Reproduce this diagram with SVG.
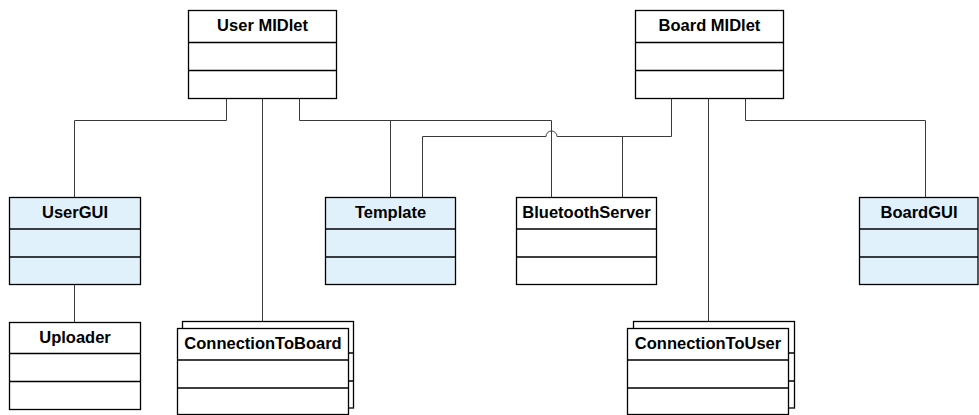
<svg xmlns="http://www.w3.org/2000/svg" width="979" height="415" viewBox="0 0 979 415">
  <style>
    .box { stroke: #000; stroke-width: 1.3; }
    .plain { fill: #fff; }
    .gui { fill: #e0f1fc; }
    .div { stroke: #000; stroke-width: 1.3; fill: none; }
    .lbl { font-family: "Liberation Sans", Arial, sans-serif; font-weight: bold; font-size: 16.5px; fill: #000; text-anchor: middle; }
    .conn { stroke: #3a3a3a; stroke-width: 1; fill: none; }
  </style>

  <!-- connectors -->
  <g id="connectors">
    <!-- User MIDlet to UserGUI -->
    <path class="conn" d="M226.5 98 V120.5 H74.5 V197"/>
    <!-- User MIDlet to ConnectionToBoard -->
    <path class="conn" d="M262.5 98 V328"/>
    <!-- User MIDlet to Template and BluetoothServer -->
    <path class="conn" d="M299.5 98 V120.5 H551.5 V197 M390.5 120.5 V197"/>
    <!-- Board MIDlet to Template and BluetoothServer (hops over the vertical line) -->
    <path class="conn" d="M671.5 98 V136.5 H557 A5.5 5.5 0 0 0 546 136.5 H422.5 V197 M622.5 136.5 V197"/>
    <!-- Board MIDlet to ConnectionToUser -->
    <path class="conn" d="M708.5 98 V328"/>
    <!-- Board MIDlet to BoardGUI -->
    <path class="conn" d="M745.5 98 V120.5 H925.5 V197"/>
    <!-- UserGUI to Uploader -->
    <path class="conn" d="M74.5 285 V322"/>
  </g>

  <g id="user-midlet">
    <rect class="box plain" x="188.5" y="10.5" width="148" height="88"/>
    <path class="div" d="M188.5 42.5 H336.5 M188.5 70.5 H336.5"/>
    <text class="lbl" x="262.5" y="31">User MIDlet</text>
  </g>

  <g id="board-midlet">
    <rect class="box plain" x="635.5" y="10.5" width="148" height="88"/>
    <path class="div" d="M635.5 42.5 H783.5 M635.5 70.5 H783.5"/>
    <text class="lbl" x="709.5" y="31">Board MIDlet</text>
  </g>

  <g id="user-gui">
    <rect class="box gui" x="9.5" y="197.5" width="131" height="87"/>
    <path class="div" d="M9.5 229 H140.5 M9.5 257 H140.5"/>
    <text class="lbl" x="75" y="217.5">UserGUI</text>
  </g>

  <g id="uploader">
    <rect class="box plain" x="9.5" y="322.5" width="131" height="87"/>
    <path class="div" d="M9.5 353.5 H140.5 M9.5 381.5 H140.5"/>
    <text class="lbl" x="75" y="342.5">Uploader</text>
  </g>

  <g id="template">
    <rect class="box gui" x="325.5" y="197.5" width="130" height="87"/>
    <path class="div" d="M325.5 229 H455.5 M325.5 257 H455.5"/>
    <text class="lbl" x="390.5" y="217.5">Template</text>
  </g>

  <g id="bluetooth-server">
    <rect class="box plain" x="516.5" y="197.5" width="140" height="87"/>
    <path class="div" d="M516.5 229 H656.5 M516.5 257 H656.5"/>
    <text class="lbl" x="586.5" y="217.5">BluetoothServer</text>
  </g>

  <g id="board-gui">
    <rect class="box gui" x="859.5" y="197.5" width="118.5" height="87"/>
    <path class="div" d="M859.5 229 H978 M859.5 257 H978"/>
    <text class="lbl" x="919" y="217.5">BoardGUI</text>
  </g>

  <!-- multi-instance classes: a shifted copy sits behind the front box -->
  <g id="connection-to-board">
    <rect class="box plain" x="182.5" y="321.5" width="171" height="86.5"/>
    <path class="div" d="M182.5 353 H353.5 M182.5 381 H353.5"/>
    <rect class="box plain" x="177.5" y="328.5" width="171" height="86"/>
    <path class="div" d="M177.5 360 H348.5 M177.5 388 H348.5"/>
    <text class="lbl" x="263" y="348.5">ConnectionToBoard</text>
  </g>

  <g id="connection-to-user">
    <rect class="box plain" x="633.5" y="321.5" width="161" height="86.5"/>
    <path class="div" d="M633.5 353 H794.5 M633.5 381 H794.5"/>
    <rect class="box plain" x="627.5" y="328.5" width="161" height="86"/>
    <path class="div" d="M627.5 360 H788.5 M627.5 388 H788.5"/>
    <text class="lbl" x="708" y="348.5">ConnectionToUser</text>
  </g>
</svg>
